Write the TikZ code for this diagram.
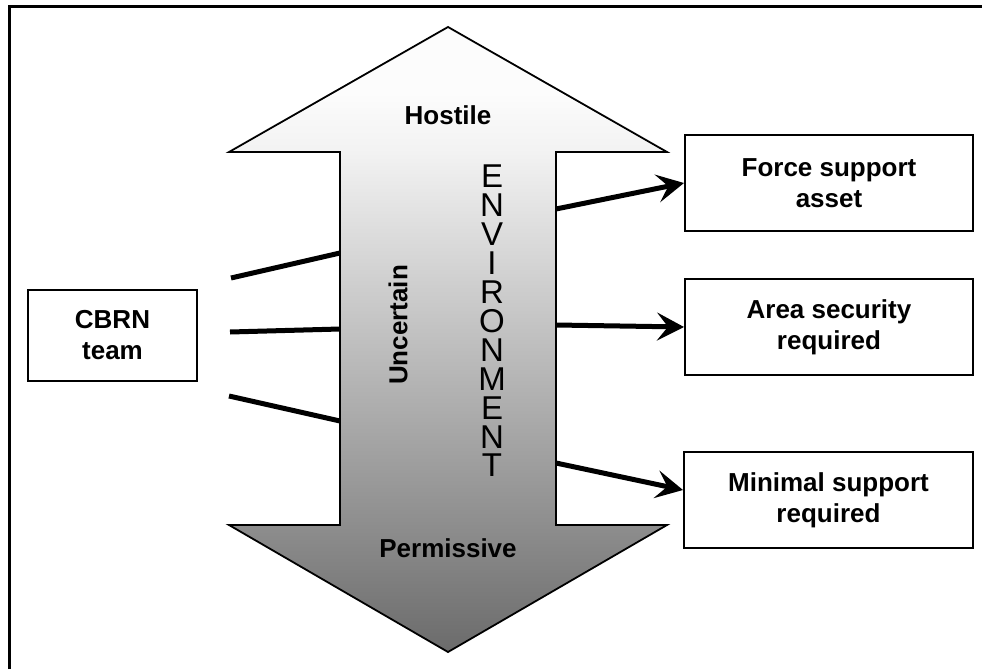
\documentclass[tikz,border=0pt]{standalone}
\usepackage{fontspec}
\setmainfont{Liberation Sans}
\usetikzlibrary{arrows.meta}
\definecolor{shA}{gray}{0.42}
\definecolor{shB}{gray}{0.95}
\definecolor{shC}{gray}{0.99}
\pgfdeclareverticalshading{envshade}{100bp}{color(0bp)=(shA); color(25bp)=(shA); color(65bp)=(shB); color(70bp)=(shC); color(75bp)=(shC); color(100bp)=(shC)}
\begin{document}
\begin{tikzpicture}[x=1pt,y=-1pt,
  box/.style={draw, line width=2pt, align=center, inner sep=0pt,
    font=\fontsize{26}{31}\selectfont\bfseries},
  lbl/.style={font=\fontsize{26}{31}\selectfont\bfseries, inner sep=0pt},
  envword/.style={font={\fontsize{33}{28.9}\selectfont\lineskiplimit -100pt},
    inner sep=0pt, align=center},
  link/.style={line width=5pt},
  frame/.style={line width=3pt},
  arr/.style={line width=5pt, -{Stealth[length=27pt,width=28pt,inset=11pt]}}]
\useasboundingbox (0,0) rectangle (982,669);
% frame (only top and left edges are visible)
\coordinate (fbl) at (9.5,669);
\coordinate (ftl) at (9.5,6.5);
\coordinate (ftr) at (982,6.5);
\draw[frame] (fbl) -- (ftl) -- (ftr);
% double-headed environment arrow
\path[draw, line width=1.8pt, shading=envshade, line join=miter]
  (448,27) -- (667,152) -- (556,152) -- (556,525) -- (667,525) -- (448,652)
  -- (229,525) -- (340,525) -- (340,152) -- (229,152) -- cycle;
\node[lbl, anchor=base] (hostile) at (448,124) {Hostile};
\node[lbl, anchor=base] (perm) at (448,557) {Permissive};
\node[lbl, rotate=90] (unc) at (398,325) {Uncertain};
\node[envword, anchor=north] (env) at (492,165) {E\\N\\V\\I\\R\\O\\N\\M\\E\\N\\T};
% boxes
\node[box, minimum width=169pt, minimum height=91pt] (cbrn) at (112.5,335.5) {CBRN\\team};
\node[box, minimum width=288pt, minimum height=96pt] (force) at (829,183) {Force support\\asset};
\node[box, minimum width=288pt, minimum height=96pt] (area) at (829,327) {Area security\\required};
\node[box, minimum width=289pt, minimum height=96pt] (minimal) at (828.5,500) {Minimal support\\required};
% left links
\coordinate (l1a) at (231,278); \coordinate (l1b) at (340,253);
\coordinate (l2a) at (230,332); \coordinate (l2b) at (340,329);
\coordinate (l3a) at (229,396); \coordinate (l3b) at (340,421);
\draw[link] (l1a) -- (l1b);
\draw[link] (l2a) -- (l2b);
\draw[link] (l3a) -- (l3b);
% right arrows
\coordinate (r1) at (556,209);
\coordinate (r2) at (556,325);
\coordinate (r3) at (556,463);
\draw[arr] (r1) -- (force.west);
\draw[arr] (r2) -- (area.west);
\draw[arr] (r3) -- ([yshift=10pt]minimal.west);
\end{tikzpicture}
\end{document}
